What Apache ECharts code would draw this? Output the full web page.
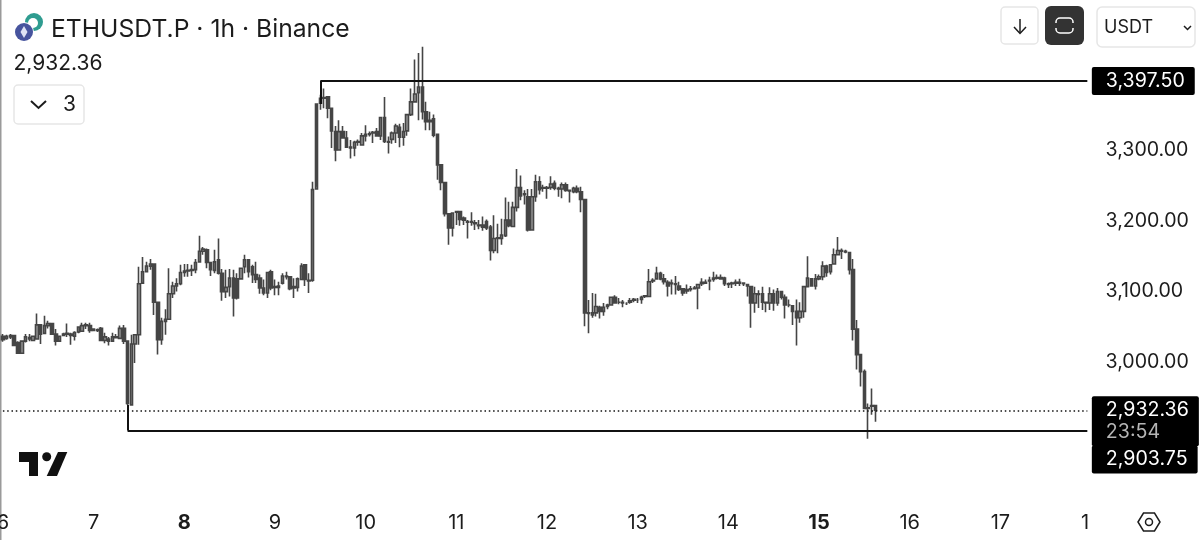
<!DOCTYPE html>
<html>
<head>
<meta charset="utf-8">
<style>
html, body { margin: 0; padding: 0; background: #fff; }
#echart { width: 1199px; height: 540px; }
</style>
<script src="https://cdn.jsdelivr.net/npm/echarts@6/dist/echarts.min.js"></script>
</head>
<body>
<div id="echart"></div>
<script>
var dom = document.getElementById("echart")
var myChart = echarts.init(dom);

// hourly candles, first one is 00:00 on the 6th
// prettier-ignore
let opens = [
  3037,3034,3036,3038,3028,3013,3030,3033,3031,3033,3053,3041,3052,3055,3040,3030,3038,3040,3040,3037,3043,3044,3052,3052,
  3047,3046,3048,3031,3033,3030,3036,3034,3048,3030,2940,3026,3039,3112,3128,3136,3139,3085,3032,3058,3061,3097,3108,3111,
  3127,3129,3130,3131,3142,3157,3159,3141,3130,3145,3126,3100,3107,3119,3118,3118,3135,3145,3135,3124,3119,3105,3098,3128,
  3107,3106,3112,3122,3121,3105,3106,3117,3138,3116,3116,3245,3366,3373,3375,3359,3326,3300,3326,3317,3304,3303,3311,3307,
  3320,3322,3324,3326,3320,3346,3312,3315,3324,3332,3318,3327,3350,3368,3381,3389,3354,3340,3344,3322,3279,3254,3210,3190,
  3213,3213,3204,3199,3198,3196,3193,3194,3199,3191,3158,3175,3175,3179,3201,3192,3219,3247,3237,3234,3187,3234,3255,3246,
  3246,3247,3253,3246,3245,3251,3243,3241,3246,3241,3230,3070,3067,3070,3078,3072,3079,3081,3092,3085,3085,3083,3085,3088,
  3088,3089,3093,3093,3115,3118,3126,3118,3113,3112,3111,3108,3104,3101,3103,3104,3105,3111,3112,3115,3117,3119,3120,3119,
  3111,3111,3112,3112,3112,3110,3107,3084,3097,3097,3085,3084,3097,3084,3100,3092,3081,3080,3072,3063,3072,3107,3118,3108,
  3118,3121,3136,3128,3139,3152,3158,3157,3155,3131,3047,3011,2987,2935,2938,2939
];
// prettier-ignore
let highs = [
  3040,3039,3040,3039,3030,3031,3040,3040,3038,3069,3054,3066,3059,3056,3047,3037,3042,3055,3042,3044,3051,3056,3056,3056,
  3048,3048,3050,3042,3036,3042,3040,3052,3053,3031,3039,3040,3135,3149,3142,3146,3140,3086,3063,3075,3133,3114,3119,3138,
  3139,3139,3138,3146,3179,3163,3161,3142,3159,3175,3132,3131,3132,3131,3126,3134,3152,3146,3138,3142,3124,3117,3128,3131,
  3117,3114,3126,3128,3122,3119,3120,3140,3139,3126,3255,3248,3378,3387,3376,3360,3334,3342,3334,3327,3314,3313,3315,3324,
  3335,3326,3327,3331,3347,3375,3319,3326,3337,3337,3338,3351,3387,3428,3437,3446,3368,3354,3350,3323,3280,3255,3211,3212,
  3214,3214,3206,3201,3212,3201,3201,3206,3202,3194,3208,3196,3203,3233,3227,3227,3273,3264,3243,3245,3245,3265,3263,3251,
  3249,3263,3257,3248,3254,3254,3244,3248,3250,3248,3231,3088,3098,3097,3080,3084,3083,3093,3095,3091,3088,3085,3091,3091,
  3091,3094,3094,3132,3119,3135,3128,3125,3116,3117,3122,3114,3105,3110,3108,3108,3111,3119,3117,3121,3128,3124,3124,3121,
  3113,3114,3117,3118,3113,3111,3108,3107,3102,3107,3086,3106,3103,3105,3101,3096,3089,3081,3089,3085,3108,3150,3119,3125,
  3124,3143,3138,3139,3161,3177,3161,3159,3156,3146,3060,3012,2990,2942,2963,2940
];
// prettier-ignore
let lows = [
  3029,3032,3033,3023,3013,3012,3028,3030,3030,3033,3026,3040,3048,3039,3024,3029,3037,3036,3025,3031,3041,3043,3047,3042,
  3044,3043,3030,3027,3024,3029,3034,3033,3026,2940,2939,2999,3025,3111,3127,3131,3067,3011,3025,3039,3060,3091,3100,3109,
  3121,3121,3122,3126,3141,3152,3133,3122,3126,3124,3087,3091,3093,3065,3089,3117,3126,3120,3112,3112,3097,3095,3091,3102,
  3095,3095,3110,3117,3102,3091,3100,3116,3108,3098,3114,3244,3357,3359,3345,3303,3284,3299,3316,3303,3288,3291,3306,3306,
  3312,3319,3310,3319,3314,3310,3295,3309,3310,3304,3306,3320,3348,3367,3342,3343,3328,3328,3318,3258,3243,3206,3166,3178,
  3194,3193,3194,3175,3193,3187,3188,3186,3187,3144,3154,3154,3166,3177,3191,3191,3213,3229,3223,3185,3186,3227,3237,3241,
  3231,3244,3243,3234,3232,3241,3226,3239,3239,3212,3051,3041,3063,3065,3062,3066,3075,3080,3083,3082,3078,3081,3083,3085,
  3084,3083,3091,3092,3112,3117,3116,3110,3093,3096,3096,3101,3094,3097,3100,3103,3075,3108,3111,3102,3114,3117,3117,3108,
  3105,3105,3108,3108,3108,3093,3049,3070,3077,3074,3071,3074,3073,3080,3089,3062,3078,3053,3024,3056,3063,3107,3107,3103,
  3116,3116,3121,3124,3138,3151,3146,3154,3124,3031,2990,2966,2934,2892,2926,2916
];
// prettier-ignore
let closes = [
  3032,3037,3038,3024,3013,3030,3036,3035,3037,3053,3040,3052,3055,3040,3030,3037,3040,3041,3038,3042,3050,3052,3053,3045,
  3045,3045,3031,3036,3030,3036,3035,3048,3030,2942,3026,3039,3111,3128,3136,3139,3085,3032,3058,3061,3097,3108,3111,3127,
  3129,3130,3131,3141,3157,3160,3141,3131,3142,3126,3100,3106,3119,3091,3091,3133,3145,3128,3124,3117,3105,3098,3127,3105,
  3106,3108,3122,3121,3104,3107,3118,3136,3117,3115,3244,3365,3373,3374,3359,3327,3300,3326,3317,3304,3303,3311,3312,3320,
  3322,3323,3325,3320,3346,3312,3311,3324,3334,3318,3326,3350,3368,3379,3389,3354,3340,3342,3321,3279,3254,3210,3190,3211,
  3212,3202,3201,3198,3199,3197,3194,3191,3190,3158,3175,3176,3180,3201,3193,3219,3247,3235,3238,3187,3234,3255,3244,3247,
  3247,3252,3246,3245,3251,3243,3242,3246,3241,3230,3070,3069,3070,3079,3072,3078,3081,3092,3084,3085,3084,3083,3087,3089,
  3088,3092,3094,3114,3116,3126,3118,3114,3108,3111,3110,3103,3098,3103,3104,3105,3110,3113,3113,3116,3119,3120,3118,3111,
  3110,3112,3113,3113,3111,3108,3084,3097,3096,3085,3084,3097,3084,3100,3092,3081,3081,3072,3063,3072,3107,3119,3108,3118,
  3121,3136,3127,3138,3152,3158,3157,3156,3131,3047,3011,2987,2935,2936,2939,2932.36
];

// every 24th category gets a day label, the last one is cut off by the price scale
let dayLabels = ['6', '7', '8', '9', '10', '11', '12', '13', '14', '15', '16', '17', '1'];
let boldDays = ['8', '15'];
let priceTicks = [3000, 3100, 3200, 3300];

let resistance = 3397.5;
let support = 2903.75;
let lastPrice = closes[closes.length - 1];
let countdown = '23:54';
let hiddenIndicators = '3';

let candles = [];
for (let i = 0; i < opens.length; i++) {
    candles.push([opens[i], closes[i], lows[i], highs[i]]);
}

let categories = [];
for (let i = 0; i <= 288; i++) {
    if (i % 24 !== 0) {
        categories.push('');
        continue;
    }
    let label = dayLabels[i / 24];
    let item = { value: label, textStyle: {} };
    if (boldDays.indexOf(label) >= 0) item.textStyle.fontWeight = 'bold';
    if (i === 288) item.textStyle.padding = [0, 12, 0, 0];
    categories.push(item);
}

function fmt(v) {
    return v.toLocaleString('en-US', { minimumFractionDigits: 2, maximumFractionDigits: 2 });
}

const font = 'Inter';
const ink = '#1c1c1c';
const candleDark = '#454545';
const boxBorder = '#e6e6e6';

let priceTag = {
    show: true,
    position: 'end',
    distance: 4.5,
    fontFamily: font,
    fontSize: 19.6,
    color: '#fff',
    backgroundColor: '#000',
    borderRadius: 2,
    align: 'left'
};

let option = {
    animation: false,
    backgroundColor: '#fff',
    textStyle: { fontFamily: font },
    grid: { left: 1, top: 8.4, width: 1092, height: 495.6, outerBoundsMode: 'none' },
    title: {
        text: 'ETHUSDT.P · 1h · Binance',
        left: 46,
        top: 12.5,
        textStyle: { fontFamily: font, fontSize: 24.7, fontWeight: 'normal', color: ink }
    },
    xAxis: {
        type: 'category',
        data: categories,
        axisLine: { show: false },
        axisTick: { show: false },
        axisLabel: {
            interval: function (index) { return index % 24 === 0; },
            margin: 9,
            fontFamily: font,
            fontSize: 20,
            color: ink
        }
    },
    yAxis: {
        type: 'value',
        position: 'right',
        min: 2800,
        max: 3500,
        interval: 100,
        axisLine: { show: false },
        axisTick: { show: false },
        splitLine: { show: false },
        axisLabel: {
            customValues: priceTicks,
            formatter: fmt,
            margin: 12.5,
            padding: [0, 0, 3, 0],
            fontFamily: font,
            fontSize: 19.6,
            color: ink
        }
    },
    series: [
        {
            type: 'candlestick',
            data: candles,
            barWidth: 3,
            itemStyle: {
                color: '#979797',
                color0: candleDark,
                borderColor: candleDark,
                borderColor0: candleDark,
                borderWidth: 1.6
            },
            markLine: {
                silent: true,
                symbol: 'none',
                animation: false,
                lineStyle: { color: '#111', width: 2, type: 'solid' },
                label: { show: false },
                emphasis: { disabled: true },
                data: [
                    // stems going down to the candle the level was drawn from
                    [{ coord: [84, closes[84] - 8] }, { coord: [84, resistance] }],
                    [{ coord: [33, lows[33]] }, { coord: [33, support] }],
                    [
                        { coord: [84, resistance], label: Object.assign({}, priceTag, { formatter: fmt(resistance), padding: [4, 10, 4, 14] }) },
                        { coord: [287, resistance] }
                    ],
                    [
                        { coord: [33, support], label: Object.assign({}, priceTag, { formatter: fmt(support), padding: [4, 10, 4, 14], offset: [0, 29] }) },
                        { coord: [287, support] }
                    ],
                    [
                        {
                            coord: [0, lastPrice],
                            lineStyle: { color: '#111', width: 1.5, type: [1.5, 2.8] },
                            label: Object.assign({}, priceTag, {
                                formatter: fmt(lastPrice) + '\n{t|' + countdown + '}',
                                lineHeight: 22,
                                padding: [3, 10, 3, 14],
                                offset: [0, 11],
                                rich: { t: { color: '#b5b5b5', fontFamily: font, fontSize: 19.6, lineHeight: 22 } }
                            })
                        },
                        { coord: [287, lastPrice] }
                    ]
                ]
            }
        }
    ],
    graphic: [
        // window edge
        { type: 'rect', shape: { x: 0, y: 0, width: 1.5, height: 540 }, style: { fill: '#9a9a9a' } },
        // symbol icon
        { type: 'circle', shape: { cx: 34, cy: 22, r: 9 }, style: { fill: '#2f9c90' } },
        { type: 'circle', shape: { cx: 33, cy: 23, r: 5 }, style: { fill: '#fff' } },
        { type: 'circle', shape: { cx: 24, cy: 32, r: 10 }, style: { fill: '#fff' } },
        { type: 'circle', shape: { cx: 24, cy: 32, r: 9 }, style: { fill: '#47549e' } },
        { type: 'polygon', shape: { points: [[24, 26], [27.5, 32], [24, 38], [20.5, 32]] }, style: { fill: '#dfe3f5' } },
        // last price under the title
        { type: 'text', x: 13.5, y: 64, style: { text: fmt(lastPrice), fontFamily: font, fontSize: 21, fill: ink, verticalAlign: 'middle' } },
        // collapsed indicators
        { type: 'rect', shape: { x: 14, y: 85, width: 70, height: 39, r: 4 }, style: { fill: '#fff', stroke: boxBorder, lineWidth: 1.5 } },
        { type: 'polyline', shape: { points: [[31, 101], [38.5, 108], [46, 101]] }, style: { fill: 'none', stroke: ink, lineWidth: 2 } },
        { type: 'text', x: 63, y: 105, style: { text: hiddenIndicators, fontFamily: font, fontSize: 21, fill: ink, verticalAlign: 'middle' } },
        // toolbar
        { type: 'rect', shape: { x: 1001, y: 7, width: 37, height: 37, r: 4 }, style: { fill: '#fff', stroke: boxBorder, lineWidth: 1.5 } },
        { type: 'polyline', shape: { points: [[1020, 19], [1020, 33]] }, style: { stroke: ink, lineWidth: 1.5, fill: 'none' } },
        { type: 'polyline', shape: { points: [[1014, 27], [1020, 33.5], [1026, 27]] }, style: { stroke: ink, lineWidth: 1.5, fill: 'none' } },
        { type: 'rect', shape: { x: 1045, y: 6, width: 39, height: 39, r: 6 }, style: { fill: '#333' } },
        { type: 'rect', shape: { x: 1056, y: 18, width: 17, height: 15, r: 4 }, style: { fill: 'none', stroke: '#fff', lineWidth: 1.5 } },
        { type: 'rect', shape: { x: 1053, y: 23, width: 23, height: 5 }, style: { fill: '#333' } },
        { type: 'rect', shape: { x: 1097, y: 7, width: 98, height: 40, r: 5 }, style: { fill: '#fff', stroke: boxBorder, lineWidth: 1.5 } },
        { type: 'text', x: 1104, y: 27.5, style: { text: 'USDT', fontFamily: font, fontSize: 18, fill: ink, verticalAlign: 'middle' } },
        { type: 'polyline', shape: { points: [[1184, 26], [1187.5, 29.5], [1191, 26]] }, style: { fill: 'none', stroke: ink, lineWidth: 1.5 } },
        // TradingView mark
        { type: 'polygon', shape: { points: [[19, 452], [38, 452], [38, 476], [29, 476], [29, 462], [19, 462]] }, style: { fill: '#111' } },
        { type: 'circle', shape: { cx: 46.7, cy: 456.7, r: 4.5 }, style: { fill: '#111' } },
        { type: 'polygon', shape: { points: [[58, 452], [67.3, 452], [57, 476], [46.7, 476]] }, style: { fill: '#111' } },
        // chart settings
        { type: 'polygon', shape: { points: [[1138, 522], [1143.5, 513], [1154.5, 513], [1160, 522], [1154.5, 531], [1143.5, 531]] }, style: { fill: 'none', stroke: ink, lineWidth: 1.5 } },
        { type: 'circle', shape: { cx: 1149, cy: 522, r: 3.5 }, style: { fill: 'none', stroke: ink, lineWidth: 1.5 } }
    ]
};

if (option && typeof option === 'object') {
    myChart.setOption(option);
}
</script>
</body>
</html>
